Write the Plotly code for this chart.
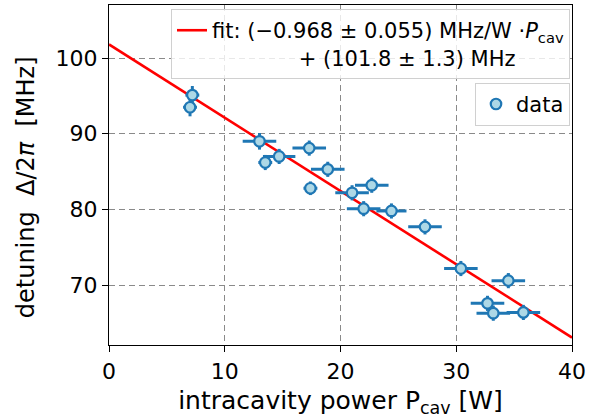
import plotly.graph_objects as go

# ---- data ----
power_W = [7.2, 7.0, 13.0, 14.7, 13.5, 17.3, 18.9, 17.4, 21.0, 22.7, 22.0, 24.4, 27.3, 30.4, 34.5, 32.7, 33.2, 35.8]
detuning_MHz = [95.1, 93.5, 89.0, 87.0, 86.2, 88.1, 85.3, 82.8, 82.2, 83.2, 80.1, 79.8, 77.7, 72.2, 70.6, 67.6, 66.3, 66.4]
power_err = [0.6, 0.6, 1.45, 1.4, 0.6, 1.45, 1.45, 0.6, 1.45, 1.45, 1.45, 1.3, 1.45, 1.45, 1.45, 1.45, 1.45, 1.45]
detuning_err = [1.2, 1.2, 1.1, 1.0, 1.0, 1.0, 1.0, 0.9, 1.0, 1.0, 1.0, 1.0, 1.0, 1.0, 1.0, 1.0, 1.0, 1.0]

fit_slope = -0.968
fit_intercept = 101.8
fit_x = [0, 40]
fit_y = [fit_intercept + fit_slope * x for x in fit_x]

FONT = "DejaVu Sans"
NB = "\u00a0"

fig = go.Figure()

fig.add_trace(go.Scatter(
    x=fit_x, y=fit_y, mode="lines",
    line=dict(color="red", width=2.6),
    name="fit: (\u22120.968" + NB + "\u00b1" + NB + "0.055) MHz/W \u00b7<i>P</i><sub>cav</sub><br>"
         + NB * 13 + "+ (101.8" + NB + "\u00b1" + NB + "1.3) MHz",
    legend="legend",
))

fig.add_trace(go.Scatter(
    x=power_W, y=detuning_MHz, mode="markers",
    marker=dict(symbol="circle", size=10.5, color="#add8e6",
                line=dict(color="#1f77b4", width=2.2)),
    error_x=dict(type="data", array=power_err, thickness=3, width=0, color="#1f77b4"),
    error_y=dict(type="data", array=detuning_err, thickness=3, width=0, color="#1f77b4"),
    name="data",
    legend="legend2",
))

axis_common = dict(
    showline=True, linecolor="black", linewidth=1.3, mirror=True,
    ticks="outside", ticklen=6, tickwidth=1.3, tickcolor="black",
    tickfont=dict(family=FONT, size=22, color="black"),
    showgrid=True, gridcolor="#8a8a8a", gridwidth=1.1, griddash="6px,4px",
    zeroline=False,
)

fig.update_xaxes(
    range=[0, 40], tickvals=[0, 10, 20, 30, 40],
    title=dict(text="intracavity power P<sub>cav</sub> [W]",
               font=dict(family=FONT, size=25, color="black"), standoff=8),
    **axis_common,
)
fig.update_yaxes(
    range=[62.1, 107.0], tickvals=[70, 80, 90, 100],
    **axis_common,
)

legend_style = dict(
    bgcolor="rgba(255,255,255,0.8)", bordercolor="#d0d0d0", borderwidth=1,
    font=dict(family=FONT, size=21, color="black"),
    xanchor="right", yanchor="top", valign="top",
)

fig.update_layout(
    width=590, height=420,
    margin=dict(l=109, r=15, t=4, b=75),
    plot_bgcolor="white", paper_bgcolor="white",
    font=dict(family=FONT, color="black"),
    showlegend=True,
    legend=dict(x=0.9957, y=0.988, **legend_style),
    legend2=dict(x=0.9957, y=0.771, **legend_style),
    annotations=[dict(
        text="detuning" + NB + NB + "\u0394/2<i>\u03c0</i>" + NB + NB + "[MHz]",
        xref="paper", yref="paper", x=-0.18, y=0.463,
        xanchor="center", yanchor="middle", textangle=-90, showarrow=False,
        font=dict(family=FONT, size=24, color="black"),
    )],
)

fig.write_html("out.html")
